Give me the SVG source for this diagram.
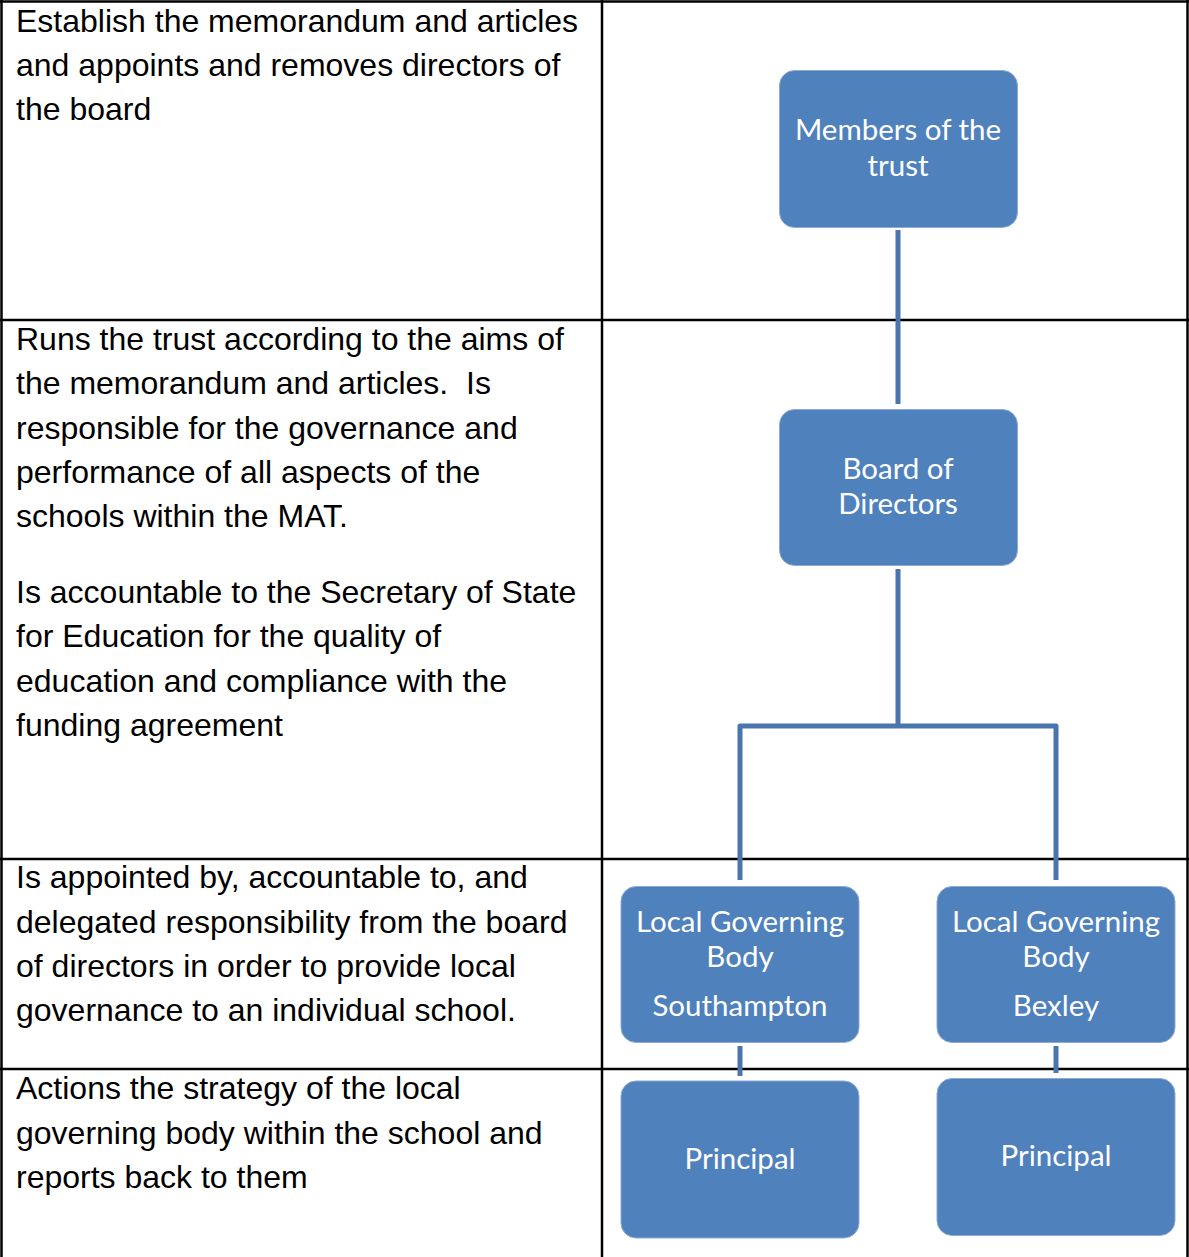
<svg xmlns="http://www.w3.org/2000/svg" width="1189" height="1257" viewBox="0 0 1189 1257">
<style>
.grid{stroke:#000;stroke-width:2.5;fill:none}
.desc{font-family:"Liberation Sans",Arial,sans-serif;font-size:32px;fill:#000}
.node{fill:#4f81bd;stroke:#8eaad6;stroke-width:1}
.lbl{font-family:"Lato","Open Sans",sans-serif;font-size:29.5px;fill:#fff;text-anchor:middle}
.conn{stroke:#4a75ad;stroke-width:5;fill:none}
</style>
<rect width="1189" height="1257" fill="#fff"/>
<g id="table">
<line class="grid" x1="1.5" y1="0" x2="1.5" y2="1257"/>
<line class="grid" x1="1187.5" y1="0" x2="1187.5" y2="1257"/>
<line class="grid" x1="602" y1="0" x2="602" y2="1257"/>
<line class="grid" x1="0" y1="1.5" x2="1189" y2="1.5"/>
<line class="grid" x1="0" y1="320" x2="1189" y2="320"/>
<line class="grid" x1="0" y1="859" x2="1189" y2="859"/>
<line class="grid" x1="0" y1="1069" x2="1189" y2="1069"/>
</g>
<g id="descriptions" class="desc">
<text x="16" y="32">Establish the memorandum and articles</text>
<text x="16" y="76">and appoints and removes directors of</text>
<text x="16" y="120">the board</text>
<text x="16" y="350">Runs the trust according to the aims of</text>
<text x="16" y="394">the memorandum and articles.&#160; Is</text>
<text x="16" y="439">responsible for the governance and</text>
<text x="16" y="483">performance of all aspects of the</text>
<text x="16" y="527">schools within the MAT.</text>
<text x="16" y="603">Is accountable to the Secretary of State</text>
<text x="16" y="647">for Education for the quality of</text>
<text x="16" y="692">education and compliance with the</text>
<text x="16" y="736">funding agreement</text>
<text x="16" y="888">Is appointed by, accountable to, and</text>
<text x="16" y="933">delegated responsibility from the board</text>
<text x="16" y="977">of directors in order to provide local</text>
<text x="16" y="1021">governance to an individual school.</text>
<text x="16" y="1099">Actions the strategy of the local</text>
<text x="16" y="1144">governing body within the school and</text>
<text x="16" y="1188">reports back to them</text>
</g>
<g id="connectors">
<line class="conn" x1="898" y1="230" x2="898" y2="404"/>
<line class="conn" x1="898" y1="569" x2="898" y2="726"/>
<polyline class="conn" points="740,880 740,726 1056,726 1056,880" stroke-linejoin="round"/>
<line class="conn" x1="740" y1="1046" x2="740" y2="1076"/>
<line class="conn" x1="1056" y1="1046" x2="1056" y2="1073"/>
</g>
<g id="members">
<rect class="node" x="779.5" y="70.5" width="238" height="157" rx="15"/>
<text class="lbl" x="898" y="140">Members of the</text>
<text class="lbl" x="898" y="176">trust</text>
</g>
<g id="board">
<rect class="node" x="779.5" y="409.5" width="238" height="156" rx="15"/>
<text class="lbl" x="898" y="479">Board of</text>
<text class="lbl" x="898" y="514">Directors</text>
</g>
<g id="lgb-southampton">
<rect class="node" x="621" y="886.5" width="238" height="156" rx="15"/>
<text class="lbl" x="740" y="932">Local Governing</text>
<text class="lbl" x="740" y="967">Body</text>
<text class="lbl" x="740" y="1016">Southampton</text>
</g>
<g id="lgb-bexley">
<rect class="node" x="937" y="886.5" width="238" height="156" rx="15"/>
<text class="lbl" x="1056" y="932">Local Governing</text>
<text class="lbl" x="1056" y="967">Body</text>
<text class="lbl" x="1056" y="1016">Bexley</text>
</g>
<g id="principal-southampton">
<rect class="node" x="621" y="1081" width="238" height="157" rx="15"/>
<text class="lbl" x="740" y="1169">Principal</text>
</g>
<g id="principal-bexley">
<rect class="node" x="937" y="1078.5" width="238" height="157" rx="15"/>
<text class="lbl" x="1056" y="1166">Principal</text>
</g>
</svg>
